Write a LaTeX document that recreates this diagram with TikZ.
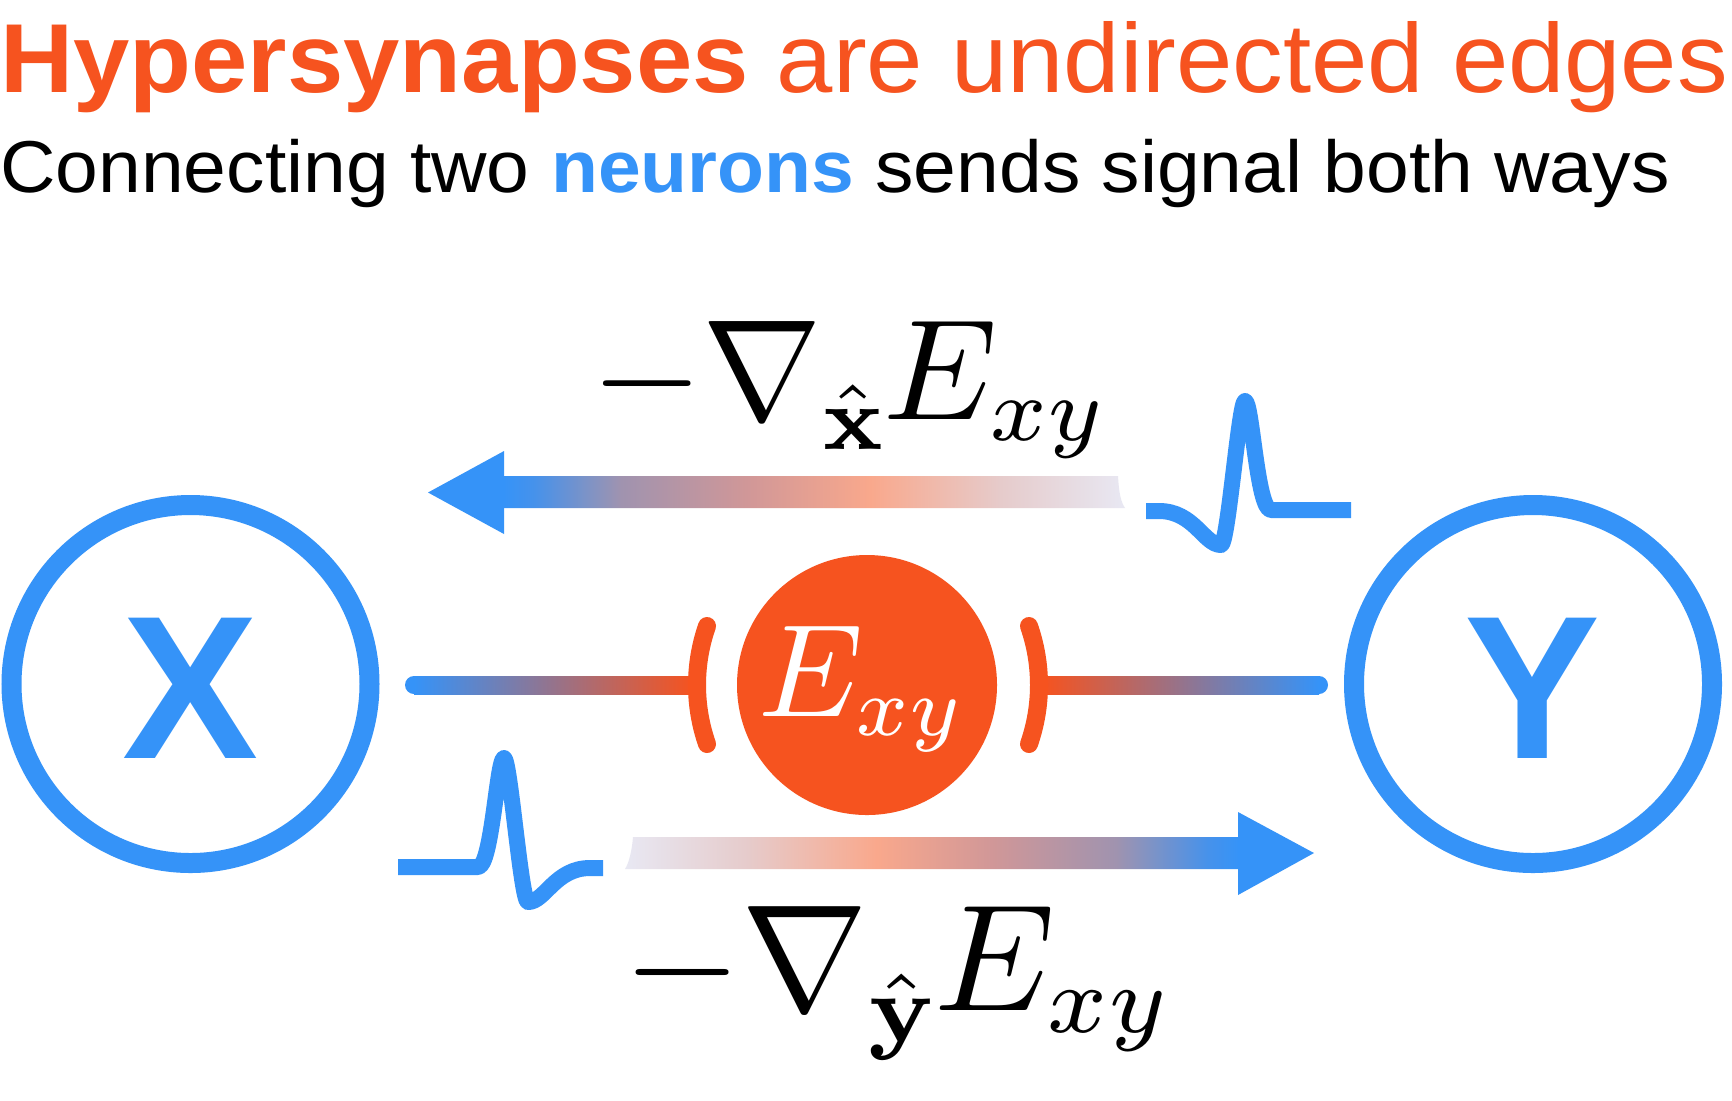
\documentclass[tikz,border=0pt]{standalone}
\usepackage[no-math]{fontspec}
\newfontfamily\sans{Liberation Sans}
\usepackage{amsmath}
\newcommand\ssub[1]{\scalebox{0.9}{$\scriptstyle #1$}}
\newcommand\lsub[1]{\raisebox{-0.6pt}{\ssub{#1}}}
\definecolor{nblue}{RGB}{53,147,248}
\definecolor{norange}{RGB}{246,83,31}
\definecolor{gA}{RGB}{70,146,235}
\definecolor{gB}{RGB}{160,147,175}
\definecolor{gC}{RGB}{208,151,152}
\definecolor{salm}{RGB}{249,168,140}
\definecolor{gD}{RGB}{230,203,203}
\definecolor{lav}{RGB}{232,232,243}
\pgfdeclarehorizontalshading{topgrad}{100bp}{color(0bp)=(nblue); color(25bp)=(nblue); color(27.5bp)=(gA); color(34.5bp)=(gB); color(44.5bp)=(gC); color(54.5bp)=(salm); color(65bp)=(gD); color(75bp)=(lav); color(100bp)=(lav)}
\pgfdeclarehorizontalshading{botgrad}{100bp}{color(0bp)=(lav); color(25bp)=(lav); color(35bp)=(gD); color(45.5bp)=(salm); color(55bp)=(gC); color(65bp)=(gB); color(72.5bp)=(gA); color(75bp)=(nblue); color(100bp)=(nblue)}
\tikzset{
  neuron/.style={circle, draw=nblue, line width=10pt, minimum size=179pt, inner sep=0pt},
  letter/.style={font=\fontsize{102pt}{102pt}\selectfont\sans\bfseries, text=nblue, inner sep=0pt, anchor=base},
  energy/.style={circle, fill=norange, minimum size=130pt, inner sep=0pt},
  bracket/.style={draw=norange, line width=9pt, line cap=round},
  spikeline/.style={draw=nblue, line width=8pt, line join=round},
  mathlbl/.style={inner sep=0pt, anchor=base west}
}
\begin{document}
\begin{tikzpicture}[x=0.5pt,y=-0.5pt]
\useasboundingbox (0,0) rectangle (1732,1100);
\fill[white] (0,0) rectangle (1732,1100);

% titles
\node[anchor=base west, inner sep=0pt, text=norange] (title) at (0,92)
  {\scalebox{1.033}[1]{\fontsize{49pt}{49pt}\selectfont\sans\textbf{Hypersynapses} are undirected edges}};
\node[anchor=base west, inner sep=0pt, text=black] (subtitle) at (0,192)
  {\scalebox{1.045}[1]{\fontsize{36.75pt}{37pt}\selectfont\sans Connecting two \textcolor{nblue}{\textbf{neurons}} sends signal both ways}};

% neurons
\node[neuron] (X) at (190.5,684) {};
\node[neuron] (Y) at (1533,684) {};
\node[letter] (Xl) at (190.5,758) {X};
\node[letter] (Yl) at (1533,758) {Y};

% energy node
\node[energy] (E) at (867,685) {};
\node[mathlbl, text=white] (El) at (758,716) {\scalebox{6.6}{$E_{\ssub{xy}}$}};

% connecting lines
\fill[nblue] (414,685) circle (9);
\shade[left color=nblue, right color=norange] (414,676) rectangle (692,694);
\fill[nblue] (1319,685) circle (9);
\shade[left color=norange, right color=nblue] (1043,676) rectangle (1319,694);

% brackets
\draw[bracket] (876,685) ++(160.75:179) arc[start angle=160.75, end angle=199.25, radius=179];
\draw[bracket] (860,685) ++(-19.25:179) arc[start angle=-19.25, end angle=19.25, radius=179];

% top arrow (to X)
\shade[shading=topgrad] (503,476) -- (1118,476) .. controls (1119,494) and (1121,502) .. (1125,508) -- (503,508) -- cycle;
\fill[nblue] (428,492.5) -- (504,451) -- (504,534) -- cycle;

% bottom arrow (to Y)
\shade[shading=botgrad] (633,837) -- (1239,837) -- (1239,869) -- (625,869) .. controls (629,863) and (632,850) .. (633,837) -- cycle;
\fill[nblue] (1314,853) -- (1238,812) -- (1238,895) -- cycle;

% spikes
\draw[spikeline] (398,867) -- (478,867) .. controls (492,867) and (497,758) .. (504,758)
  .. controls (510,758) and (521,902) .. (528,902) .. controls (545,902) and (555,868) .. (590,868) -- (603,868);
\begin{scope}[shift={(1749,-357)}, xscale=-1]
\draw[spikeline] (398,867) -- (478,867) .. controls (492,867) and (497,758) .. (504,758)
  .. controls (510,758) and (521,902) .. (528,902) .. controls (545,902) and (555,868) .. (590,868) -- (603,868);
\end{scope}

% gradient labels
\node[mathlbl] (gx) at (591,419) {\scalebox{7.17}{$-\nabla_{\lsub{\hat{\mathbf{x}}}}\mkern-1mu E_{\ssub{xy}}$}};
\node[mathlbl] (gy) at (623,1010) {\scalebox{7.6}{$-\nabla_{\lsub{\hat{\mathbf{y}}}}\mkern-1mu E_{\ssub{xy}}$}};
\end{tikzpicture}
\end{document}
